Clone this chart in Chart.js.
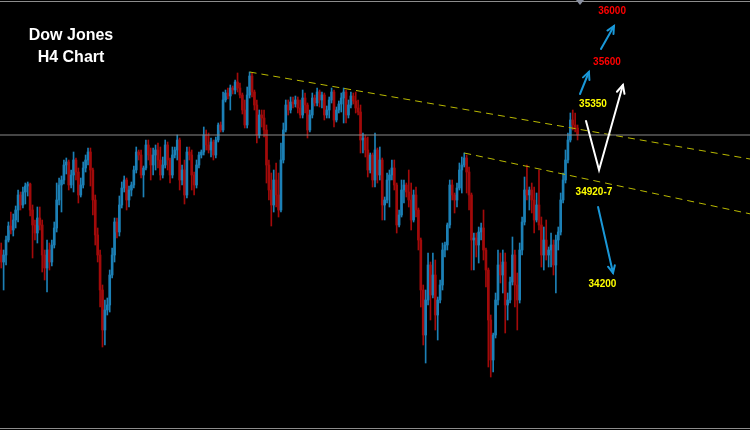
<!DOCTYPE html>
<html>
<head>
<meta charset="utf-8">
<script src="https://cdn.jsdelivr.net/npm/chart.js@4.4.0/dist/chart.umd.min.js"></script>
<style>
  html, body { margin: 0; padding: 0; background: #000; }
  canvas { display: block; }
</style>
</head>
<body>
<canvas id="c" width="750" height="430"></canvas>
<script>
// Dow Jones, 4-hour candles
const openPrices = [
  34500,34428,34470,34560,34644,34620,34680,34740,34830,34770,
  34848,34884,34896,34740,34650,34602,34692,34650,34470,34392,
  34500,34428,34530,34632,34800,34890,34920,35010,35028,34890,
  34950,35040,34968,34830,34890,34992,35040,35088,34980,34800,
  34590,34470,34260,34020,34140,34170,34350,34470,34668,34608,
  34770,34872,34920,34800,34860,34890,34980,35088,35070,34950,
  34992,35130,35070,35010,35070,35100,35040,34950,35010,35130,
  35040,34950,35070,35100,35160,34920,34980,34830,35088,35070,
  34950,34890,35010,35070,35088,35190,35130,35100,35148,35070,
  35160,35250,35220,35400,35442,35424,35472,35460,35508,35472,
  35430,35340,35250,35430,35544,35448,35370,35190,35310,35292,
  35220,35010,34860,34770,34920,34830,34740,35040,35220,35370,
  35340,35388,35376,35400,35352,35310,35412,35370,35220,35310,
  35412,35382,35448,35400,35430,35310,35340,35400,35448,35280,
  35340,35376,35412,35448,35310,35370,35424,35394,35352,35328,
  35160,35172,35100,34980,35070,34920,35100,34950,35040,34770,
  34800,34920,34950,34992,34890,34650,34710,34860,34890,34848,
  34800,34680,34830,34740,34560,34260,33990,34200,34410,34230,
  34350,34110,34200,34290,34500,34530,34650,34890,34830,34800,
  34872,34980,35010,35052,34968,34830,34560,34572,34530,34608,
  34632,34500,34380,34080,33840,33990,34200,34410,34350,34428,
  34170,34200,34308,34470,34290,34200,34500,34668,34860,34830,
  34860,34800,34680,34770,34650,34470,34560,34470,34500,34530,
  34410,34560,34608,34800,34920,35040,35160,35280,35250,35232
];
const highPrices = [
  34542,34500,34584,34668,34728,34716,34764,34860,34848,34878,
  34902,34908,34902,34770,34680,34758,34758,34680,34500,34560,
  34542,34560,34668,34902,34932,34944,35040,35052,35040,34980,
  35088,35052,34992,34932,35028,35070,35112,35112,34992,34830,
  34632,34500,34290,34200,34212,34380,34512,34692,34692,34824,
  34908,34944,34932,34884,34908,35004,35118,35100,35100,35004,
  35160,35160,35112,35112,35130,35142,35118,35058,35160,35148,
  35052,35118,35118,35190,35172,35010,35040,35118,35118,35100,
  34968,35040,35088,35100,35238,35220,35202,35172,35160,35178,
  35262,35268,35448,35460,35472,35490,35484,35520,35562,35502,
  35442,35400,35478,35568,35562,35460,35400,35340,35340,35340,
  35250,35040,34962,34980,35022,34962,35142,35262,35400,35400,
  35418,35418,35424,35418,35400,35460,35442,35382,35340,35442,
  35430,35472,35460,35448,35442,35364,35418,35472,35460,35358,
  35394,35442,35472,35460,35400,35448,35442,35448,35400,35370,
  35202,35190,35178,35082,35082,35202,35112,35118,35052,34818,
  34962,34980,35040,35040,34902,34740,34920,34920,34902,34980,
  34902,34860,34878,34752,34572,34290,34260,34482,34428,34482,
  34440,34218,34320,34542,34548,34662,34920,34920,34842,34902,
  35022,35058,35082,35070,34998,34842,34602,34602,34638,34662,
  34740,34512,34392,34110,34002,34242,34500,34482,34500,34482,
  34242,34338,34578,34500,34362,34542,34698,34938,35010,34878,
  34902,34878,34842,34980,34698,34638,34680,34518,34602,34560,
  34590,34638,34842,34962,35100,35202,35322,35340,35322,35250
];
const lowPrices = [
  34392,34260,34410,34548,34596,34584,34632,34668,34740,34752,
  34776,34824,34704,34452,34560,34542,34620,34368,34320,34248,
  34380,34404,34512,34608,34770,34728,34896,34956,34860,34872,
  34848,34920,34782,34818,34872,34968,35010,34884,34710,34530,
  34428,34158,33918,33930,34110,34128,34332,34428,34572,34584,
  34752,34848,34740,34758,34824,34872,34962,35040,34932,34818,
  34980,35040,34920,34950,34980,34992,34920,34932,34992,34980,
  34902,34932,35052,35040,34860,34890,34776,34812,35040,34860,
  34830,34872,34992,35052,35070,35100,35082,35058,35040,35052,
  35148,35208,35208,35388,35406,35340,35436,35436,35448,35412,
  35316,35232,35232,35412,35418,35340,35142,35172,35238,35178,
  34902,34800,34644,34728,34758,34698,34728,35022,35208,35310,
  35322,35352,35358,35322,35292,35292,35322,35172,35208,35292,
  35364,35364,35358,35352,35280,35292,35292,35382,35238,35268,
  35322,35328,35262,35262,35292,35352,35376,35322,35310,35082,
  35082,35058,34938,34962,34878,34878,34902,34920,34680,34680,
  34782,34758,34920,34860,34602,34638,34698,34782,34818,34758,
  34620,34668,34698,34500,34158,33930,33822,34170,34080,34212,
  34020,33960,34182,34260,34458,34500,34632,34800,34722,34758,
  34860,34842,34998,34842,34740,34380,34380,34458,34422,34560,
  34440,34278,33798,33738,33768,33972,34170,34302,34242,34002,
  34080,34182,34290,34158,34020,34182,34470,34650,34800,34740,
  34722,34602,34668,34620,34398,34380,34440,34398,34398,34350,
  34242,34500,34590,34782,34902,35022,35148,35220,35208,35160
];
const closePrices = [
  34428,34470,34560,34644,34620,34680,34740,34830,34770,34848,
  34884,34896,34740,34650,34602,34692,34650,34470,34392,34500,
  34428,34530,34632,34800,34890,34920,35010,35028,34890,34950,
  35040,34968,34830,34890,34992,35040,35088,34980,34800,34590,
  34470,34260,34020,34140,34170,34350,34470,34668,34608,34770,
  34872,34920,34800,34860,34890,34980,35088,35070,34950,34992,
  35130,35070,35010,35070,35100,35040,34950,35010,35130,35040,
  34950,35070,35100,35160,34920,34980,34830,35088,35070,34950,
  34890,35010,35070,35088,35190,35130,35100,35148,35070,35160,
  35250,35220,35400,35442,35424,35472,35460,35508,35472,35430,
  35340,35250,35430,35544,35448,35370,35190,35310,35292,35220,
  35010,34860,34770,34920,34830,34740,35040,35220,35370,35340,
  35388,35376,35400,35352,35310,35412,35370,35220,35310,35412,
  35382,35448,35400,35430,35310,35340,35400,35448,35280,35340,
  35376,35412,35448,35310,35370,35424,35394,35352,35328,35160,
  35172,35100,34980,35070,34920,35100,34950,35040,34770,34800,
  34920,34950,34992,34890,34650,34710,34860,34890,34848,34800,
  34680,34830,34740,34560,34260,33990,34200,34410,34230,34350,
  34110,34200,34290,34500,34530,34650,34890,34830,34800,34872,
  34980,35010,35052,34968,34830,34560,34572,34530,34608,34632,
  34500,34380,34080,33840,33990,34200,34410,34350,34428,34170,
  34200,34308,34470,34290,34200,34500,34668,34860,34830,34860,
  34800,34680,34770,34650,34470,34560,34470,34500,34530,34410,
  34560,34608,34800,34920,35040,35160,35280,35250,35232,35190
];

// horizontal reference level and the two falling trend lines (bar index, price)
const levelPrice = 35190;
const upperTrend = [{ x: 103, y: 35568 }, { x: 310.5, y: 35046 }];
const lowerTrend = [{ x: 192, y: 35082 }, { x: 310.5, y: 34717 }];

// target labels (text, colour, anchor in bar index / price)
const targetText  = ['36000', '35600', '35350', '34920-7', '34200'];
const targetColor = ['#ff0000', '#ff0000', '#ffff00', '#ffff00', '#ffff00'];
const targetIdx   = [253.3, 251.2, 245.4, 245.8, 249.3];
const targetPrice = [35934, 35628, 35376, 34848, 34296];

// projection arrows, as polylines in bar index / price
const blueArrows = [
  [[248.7, 35706], [254.1, 35844]],
  [[240.0, 35436], [243.7, 35568]],
  [[247.5, 34758], [253.7, 34362]]
];
const whitePath = [[242.5, 35274], [247.9, 34980], [257.8, 35490]];

const BULL = '#1c80b6';
const BEAR = '#a20a0a';
const candleColors = openPrices.map((o, i) => closePrices[i] >= o ? BULL : BEAR);

const wickData = openPrices.map((o, i) => ({ x: i, y: [lowPrices[i], highPrices[i]] }));
const bodyData = openPrices.map((o, i) => ({ x: i, y: [o, closePrices[i]] }));

function arrowHead(ctx, x0, y0, x1, y1, len) {
  const a = Math.atan2(y1 - y0, x1 - x0);
  const spread = 0.45;
  ctx.beginPath();
  ctx.moveTo(x1 - len * Math.cos(a - spread), y1 - len * Math.sin(a - spread));
  ctx.lineTo(x1, y1);
  ctx.lineTo(x1 - len * Math.cos(a + spread), y1 - len * Math.sin(a + spread));
  ctx.stroke();
}

const overlay = {
  id: 'overlay',
  beforeDraw(chart) {
    const ctx = chart.ctx;
    ctx.save();
    ctx.fillStyle = '#000';
    ctx.fillRect(0, 0, chart.width, chart.height);
    ctx.restore();
  },
  afterDatasetsDraw(chart) {
    const ctx = chart.ctx;
    const xs = chart.scales.x, ys = chart.scales.y;
    const px = v => xs.getPixelForValue(v);
    const py = v => ys.getPixelForValue(v);
    ctx.save();

    // frame lines
    ctx.strokeStyle = '#8c8c8c';
    ctx.lineWidth = 1;
    ctx.beginPath();
    ctx.moveTo(0, 1.5); ctx.lineTo(750, 1.5);
    ctx.moveTo(0, 428.5); ctx.lineTo(750, 428.5);
    ctx.stroke();

    // small marker at the top edge
    ctx.fillStyle = '#8a90a0';
    ctx.beginPath();
    ctx.moveTo(576, 0); ctx.lineTo(584, 0); ctx.lineTo(580, 5);
    ctx.closePath();
    ctx.fill();

    // blue projection arrows
    ctx.strokeStyle = '#1a98d8';
    ctx.lineWidth = 2;
    ctx.lineCap = 'round';
    blueArrows.forEach(a => {
      const x0 = px(a[0][0]), y0 = py(a[0][1]);
      const x1 = px(a[1][0]), y1 = py(a[1][1]);
      ctx.beginPath(); ctx.moveTo(x0, y0); ctx.lineTo(x1, y1); ctx.stroke();
      arrowHead(ctx, x0, y0, x1, y1, 8);
    });

    // white V path
    ctx.strokeStyle = '#ffffff';
    ctx.lineWidth = 2;
    ctx.lineJoin = 'miter';
    ctx.beginPath();
    whitePath.forEach((p, i) => {
      const x = px(p[0]), y = py(p[1]);
      if (i === 0) ctx.moveTo(x, y); else ctx.lineTo(x, y);
    });
    ctx.stroke();
    const n = whitePath.length;
    arrowHead(ctx, px(whitePath[n - 2][0]), py(whitePath[n - 2][1]),
              px(whitePath[n - 1][0]), py(whitePath[n - 1][1]), 9);

    // target labels
    ctx.font = 'bold 10px "Liberation Sans", Arial, sans-serif';
    ctx.textAlign = 'center';
    ctx.textBaseline = 'middle';
    targetText.forEach((t, i) => {
      ctx.fillStyle = targetColor[i];
      ctx.fillText(t, px(targetIdx[i]), py(targetPrice[i]));
    });

    // title
    ctx.fillStyle = '#ffffff';
    ctx.font = 'bold 16px "Liberation Sans", Arial, sans-serif';
    ctx.fillText('Dow Jones', 71, 36);
    ctx.fillText('H4 Chart', 71, 58);
    ctx.restore();
  }
};

new Chart(document.getElementById('c'), {
  type: 'bar',
  data: {
    datasets: [
      {
        type: 'line', data: [{ x: -0.5, y: levelPrice }, { x: 310.5, y: levelPrice }],
        borderColor: '#8a8a8a', borderWidth: 1, pointRadius: 0, fill: false, order: 0
      },
      {
        type: 'line', data: upperTrend,
        borderColor: '#b9b900', borderWidth: 1, borderDash: [7, 5], pointRadius: 0, fill: false, order: 0
      },
      {
        type: 'line', data: lowerTrend,
        borderColor: '#b9b900', borderWidth: 1, borderDash: [7, 5], pointRadius: 0, fill: false, order: 0
      },
      {
        data: wickData, backgroundColor: candleColors, borderWidth: 0,
        barThickness: 1, grouped: false, order: 2
      },
      {
        data: bodyData, backgroundColor: candleColors, borderWidth: 0,
        barThickness: 2, grouped: false, minBarLength: 1, order: 1
      }
    ]
  },
  options: {
    responsive: false,
    animation: false,
    layout: { padding: 0 },
    plugins: { legend: { display: false }, tooltip: { enabled: false } },
    scales: {
      x: { type: 'linear', min: -0.5, max: 310.5, offset: false, display: false },
      y: { type: 'linear', min: 33420, max: 36000, display: false }
    }
  },
  plugins: [overlay]
});
</script>
</body>
</html>
